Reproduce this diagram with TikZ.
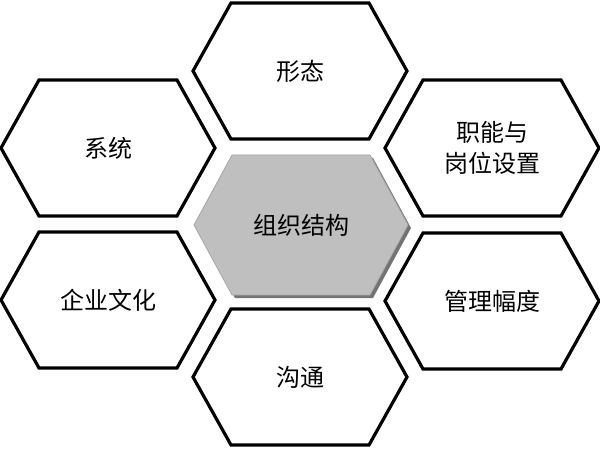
\documentclass[tikz,border=0pt]{standalone}
\usepackage{fontspec}
\setmainfont{Noto Sans CJK SC}
\usetikzlibrary{backgrounds}
\begin{document}
\begin{tikzpicture}[x=0.5pt,y=-0.5pt,
  hexlabel/.style={inner sep=0pt, align=center, font=\fontsize{12}{15.5}\selectfont, text=black},
  hexline/.style={draw=black, line width=1.6pt, line join=miter, fill=white},
  hexcore/.style={fill=black!25, draw=black!35, line width=0.4pt},
  hexshadow/.style={fill=black!55, draw=none}]
\useasboundingbox (0,0) rectangle (600,449);
\newcommand{\hexpath}[3][]{%
  \path[#1] ([shift={(-107,0)}]#2.center) -- ++(38,-#3) -- ++(138,0) -- ++(38,#3) -- ++(-38,#3) -- ++(-138,0) -- cycle;}
% nodes
\node[hexlabel] (xt) at (300,71) {形态};
\node[hexlabel] (zx) at (301,225) {组织结构};
\node[hexlabel] (gt) at (300,377) {沟通};
\node[hexlabel] (xi) at (108,148) {系统};
\node[hexlabel] (qy) at (108,300) {企业文化};
\node[hexlabel] (zn) at (492,148) {职能与\\岗位设置};
\node[hexlabel] (gl) at (492,301) {管理幅度};
% hexagons behind the labels
\begin{scope}[on background layer]
\fill[white] (0,0) rectangle (600,449);
\hexpath[hexline]{xt}{68}
\hexpath[hexline]{gt}{68}
\hexpath[hexline]{xi}{68}
\hexpath[hexline]{qy}{68}
\hexpath[hexline]{zn}{68}
\hexpath[hexline]{gl}{68}
\path[hexshadow] ([shift={(-104,3)}]zx.center) -- ++(38,-70) -- ++(138,0) -- ++(38,70) -- ++(-38,70) -- ++(-138,0) -- cycle;
\hexpath[hexcore]{zx}{70}
\end{scope}
\end{tikzpicture}
\end{document}
